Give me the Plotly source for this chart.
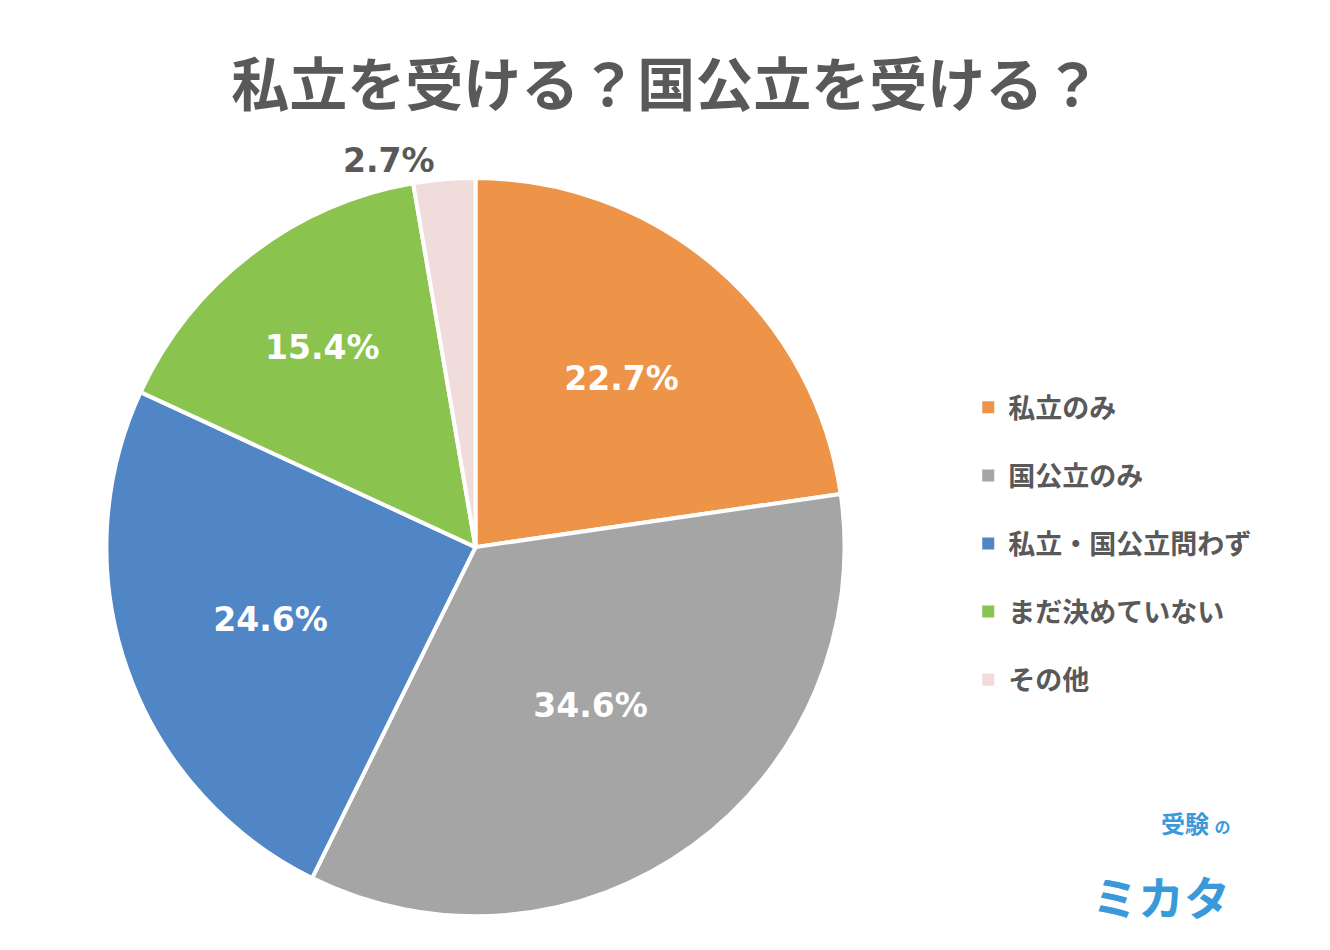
import plotly.graph_objects as go

labels = ['私立のみ', '国公立のみ', '私立・国公立問わず', 'まだ決めていない', 'その他']
values = [22.7, 34.6, 24.6, 15.4, 2.7]
colors = ['#ED9448', '#A5A5A5', '#5086C6', '#8BC34F', '#F0DCDA']
FONT = 'Noto Sans CJK JP'
NUM_FONT = 'DejaVu Sans'

fig = go.Figure()
fig.add_trace(go.Pie(
    labels=labels, values=values, sort=False, direction='clockwise', rotation=0,
    marker=dict(colors=colors, line=dict(color='white', width=4)),
    texttemplate='<b>%{value:.1f}%</b>', hoverinfo='label+value',
    textposition=['inside', 'inside', 'inside', 'inside', 'outside'],
    insidetextorientation='horizontal',
    insidetextfont=dict(color='white', size=33, family=NUM_FONT),
    outsidetextfont=dict(color='#595959', size=33, family=NUM_FONT),
    domain=dict(x=[0.074, 0.629], y=[0.04, 0.825]),
    showlegend=False,
))
# legend entries as dummy markers so spacing can be controlled
for i, (lab, col) in enumerate(zip(labels, colors)):
    fig.add_trace(go.Scatter(
        x=[None], y=[None], mode='markers', name='<b>' + lab + '</b>',
        marker=dict(symbol='square', size=14, color=col),
        legendgroup=str(i),
    ))

fig.update_layout(
    width=1330, height=950, margin=dict(l=0, r=0, t=0, b=0),
    paper_bgcolor='white', plot_bgcolor='white',
    font=dict(family=FONT, color='#595959'),
    title=dict(text='<b>私立を受ける？国公立を受ける？</b>', x=0.495, y=0.918,
               xanchor='center', yanchor='middle',
               font=dict(size=58, color='#595959', family=FONT)),
    xaxis=dict(visible=False), yaxis=dict(visible=False),
    legend=dict(x=0.722, y=0.605, xanchor='left', yanchor='top',
                traceorder='grouped', tracegroupgap=30,
                font=dict(size=27, color='#595959', family=FONT),
                itemsizing='constant'),
    annotations=[
        dict(text='<b>受験</b> <span style="font-size:16px"><b>の</b></span>', x=0.92, y=0.122,
             xref='paper', yref='paper', showarrow=False,
             font=dict(size=24, color='#3A9AD9', family=FONT)),
        dict(text='<b>ミカタ</b>', x=0.92, y=0.03, xref='paper', yref='paper',
             showarrow=False,
             font=dict(size=46, color='#3A9AD9', family=FONT)),
    ],
)
fig.write_html('out.html')
